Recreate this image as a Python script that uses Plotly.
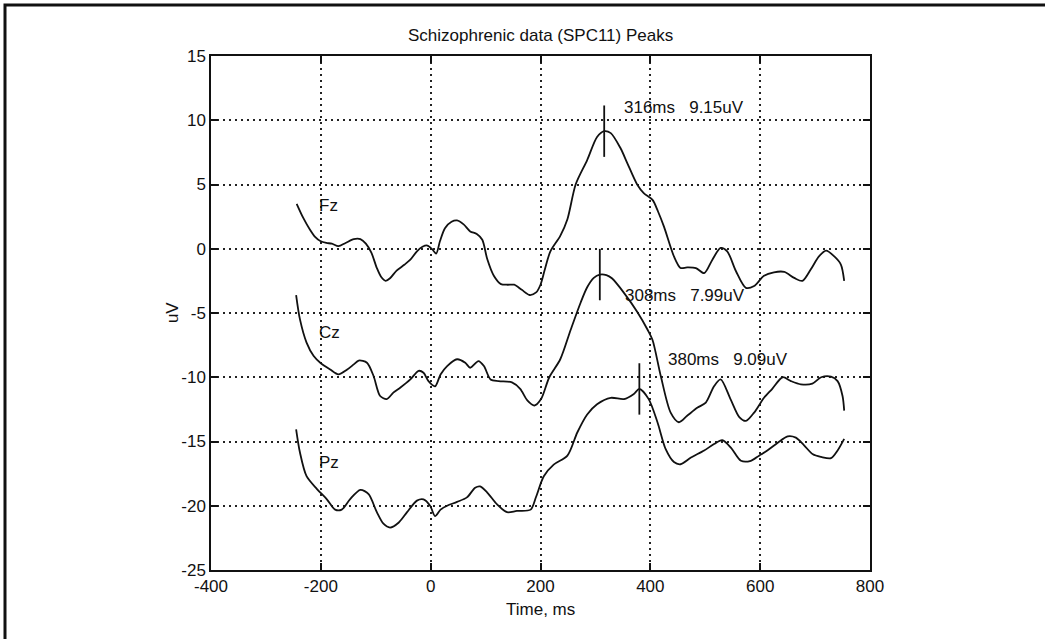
import plotly.graph_objects as go

# ---------------- data (as plotted, uV with channel offsets) ----------------
fz_ms = [-244, -232, -220, -210, -201, -190, -180, -168, -155, -140, -128, -118, -108, -98, -90, -82, -74,
         -62, -48, -37, -25, -15, -6, 3, 10, 17, 26, 38, 48, 60, 72, 84, 94, 103, 115, 128, 140, 152,
         166, 180, 192, 200, 208, 218, 236, 249, 264, 285, 303, 316, 328, 346, 358, 376, 388, 404, 414,
         425, 443, 455, 467, 483, 498, 513, 528, 540, 556, 574, 589, 607, 625, 644, 662, 677, 692, 707,
         720, 735, 747, 753]
fz_uv = [3.5, 2.4, 1.5, 0.9, 0.6, 0.45, 0.4, 0.2, 0.45, 0.75, 0.75, 0.4, -0.3, -1.5, -2.2, -2.5, -2.3,
         -1.7, -1.25, -0.85, -0.2, 0.15, 0.25, -0.05, -0.38, 0.6, 1.6, 2.1, 2.2, 1.9, 1.35, 1.15, 0.7,
         -0.8, -2.1, -2.75, -2.8, -2.8, -3.2, -3.6, -3.4, -2.8, -1.6, -0.2, 1.0, 2.3, 5.0, 6.9, 8.7,
         9.15, 9.0, 7.8, 6.67, 5.0, 4.33, 3.8, 2.9, 1.7, -0.6, -1.5, -1.45, -1.5, -1.9, -0.85, 0.06,
         -0.2, -1.75, -3.04, -2.9, -2.1, -1.83, -1.8, -2.27, -2.5, -1.62, -0.6, -0.15, -0.6, -1.23, -2.5]

cz_ms = [-245, -238, -226, -213, -201, -183, -168, -152, -140, -131, -116, -104, -92, -80, -68, -55, -37,
         -22, -13, -4, 8, 18, 30, 48, 63, 72, 87, 97, 109, 124, 148, 163, 176, 189, 201, 216, 236, 255,
         273, 285, 297, 308, 320, 330, 352, 376, 395, 404, 419, 437, 452, 467, 486, 501, 516, 528, 546,
         562, 574, 589, 607, 622, 641, 656, 674, 695, 711, 729, 741, 750, 753]
cz_uv = [-3.6, -5.5, -7.3, -8.35, -8.87, -9.4, -9.78, -9.4, -9.0, -8.7, -8.87, -9.9, -11.46, -11.7,
         -11.2, -10.8, -10.17, -9.5, -9.65, -10.3, -10.7, -9.78, -9.13, -8.6, -8.87, -9.26, -8.74, -9.13,
         -10.17, -10.3, -10.4, -10.9, -11.8, -12.2, -11.7, -10.0, -8.6, -6.3, -4.2, -3.0, -2.27, -2.01,
         -2.05, -2.3, -3.43, -4.9, -6.3, -7.1, -9.9, -12.75, -13.5, -13.0, -12.36, -11.97, -10.7, -10.17,
         -11.7, -13.1, -13.4, -12.75, -11.6, -10.9, -10.0, -10.3, -10.55, -10.5, -10.0, -9.95, -10.3,
         -11.46, -12.6]

pz_ms = [-245, -238, -226, -207, -189, -174, -162, -147, -128, -113, -98, -86, -74, -58, -43, -25, -13,
         -1, 8, 18, 30, 48, 66, 81, 90, 103, 121, 139, 157, 182, 192, 206, 224, 249, 267, 285, 303, 328,
         352, 370, 380, 397, 413, 428, 443, 455, 474, 498, 516, 531, 547, 565, 583, 598, 613, 632, 650,
         665, 680, 696, 711, 729, 741, 753]
pz_uv = [-14.05, -15.86, -17.7, -18.7, -19.5, -20.3, -20.3, -19.5, -18.76, -19.1, -20.5, -21.4, -21.7,
         -21.3, -20.5, -19.6, -19.5, -20.0, -20.8, -20.3, -20.0, -19.7, -19.35, -18.6, -18.5, -18.97,
         -19.9, -20.5, -20.4, -20.3, -19.3, -17.7, -16.8, -16.1, -14.3, -12.9, -12.1, -11.6, -11.7,
         -11.3, -10.91, -11.7, -13.5, -15.6, -16.6, -16.77, -16.25, -15.7, -15.2, -14.9, -15.5, -16.5,
         -16.5, -16.1, -15.7, -15.1, -14.6, -14.7, -15.3, -16.0, -16.2, -16.3, -15.7, -14.8]

channels = ["Fz", "Cz", "Pz"]
channel_offset = [0, -10, -20]
channel_label_ms = [-207, -207, -207]
channel_label_uv = [3.4, -6.5, -16.6]

peak_ms = [316, 308, 380]
peak_uv = [9.15, 7.99, 9.09]          # true peak amplitude (before offset)
peak_label_ms = [349, 351, 429]
peak_label_uv = [11.0, -3.6, -8.6]
peak_half_len = 2.0

x_ticks = [-400, -200, 0, 200, 400, 600, 800]
y_ticks = [-25, -20, -15, -10, -5, 0, 5, 10, 15]

FONT = "Liberation Sans, Arial, Helvetica, sans-serif"
INK = "#111111"

fig = go.Figure()
for xs, ys in [(fz_ms, fz_uv), (cz_ms, cz_uv), (pz_ms, pz_uv)]:
    fig.add_trace(go.Scatter(x=xs, y=ys, mode="lines",
                             line=dict(color=INK, width=1.8, shape="spline", smoothing=0.8),
                             hoverinfo="skip", showlegend=False))

# peak markers
for pm, pv, off in zip(peak_ms, peak_uv, channel_offset):
    fig.add_trace(go.Scatter(x=[pm, pm], y=[pv + off - peak_half_len, pv + off + peak_half_len],
                             mode="lines", line=dict(color=INK, width=1.8),
                             hoverinfo="skip", showlegend=False))

annotations = []
for name, lx, ly in zip(channels, channel_label_ms, channel_label_uv):
    annotations.append(dict(x=lx, y=ly, xref="x", yref="y", text=name, showarrow=False,
                            xanchor="left", yanchor="middle", font=dict(size=17, color=INK, family=FONT)))
for pm, pv, lx, ly in zip(peak_ms, peak_uv, peak_label_ms, peak_label_uv):
    annotations.append(dict(x=lx, y=ly, xref="x", yref="y",
                            text=f"{pm}ms\u00a0\u00a0\u00a0{pv:.2f}uV", showarrow=False,
                            xanchor="left", yanchor="middle", font=dict(size=17, color=INK, family=FONT)))
# axis titles
annotations.append(dict(x=0.5, y=(570 - 609) / 514, xref="paper", yref="paper", text="Time, ms",
                        showarrow=False, xanchor="center", yanchor="middle",
                        font=dict(size=17, color=INK, family=FONT)))
annotations.append(dict(x=-0.059, y=0.5, xref="paper", yref="paper", text="uV", showarrow=False,
                        textangle=-90, xanchor="center", yanchor="middle",
                        font=dict(size=17, color=INK, family=FONT)))
annotations.append(dict(x=0.5, y=1.0 + (56 - 36) / 514, xref="paper", yref="paper",
                        text="Schizophrenic data (SPC11) Peaks", showarrow=False,
                        xanchor="center", yanchor="middle", font=dict(size=17, color=INK, family=FONT)))

axis_common = dict(showline=True, linecolor=INK, linewidth=1.5, mirror="ticks",
                   ticks="inside", ticklen=7, tickwidth=1.5, tickcolor=INK,
                   showgrid=True, gridcolor="#222222", gridwidth=1.5, griddash="2px,4px",
                   zeroline=False, tickfont=dict(size=17, color=INK, family=FONT))

fig.update_layout(
    width=1045, height=639,
    margin=dict(l=211, r=175, t=56, b=69),
    paper_bgcolor="white", plot_bgcolor="white",
    xaxis=dict(range=[-400, 800], tickvals=x_ticks, ticktext=[str(v) for v in x_ticks],
               ticklabelstandoff=0, **axis_common),
    yaxis=dict(range=[-25, 15], tickvals=y_ticks, ticktext=[str(v) for v in y_ticks],
               ticklabelstandoff=0, **axis_common),
    annotations=annotations,
    shapes=[dict(type="rect", xref="paper", yref="paper",
                 x0=(5 - 211) / 659, x1=(1052 - 211) / 659,
                 y0=(570 - 648) / 514, y1=(570 - 5) / 514,
                 line=dict(color=INK, width=3), fillcolor="rgba(0,0,0,0)", layer="above")],
    showlegend=False,
)

fig.write_html("out.html")
